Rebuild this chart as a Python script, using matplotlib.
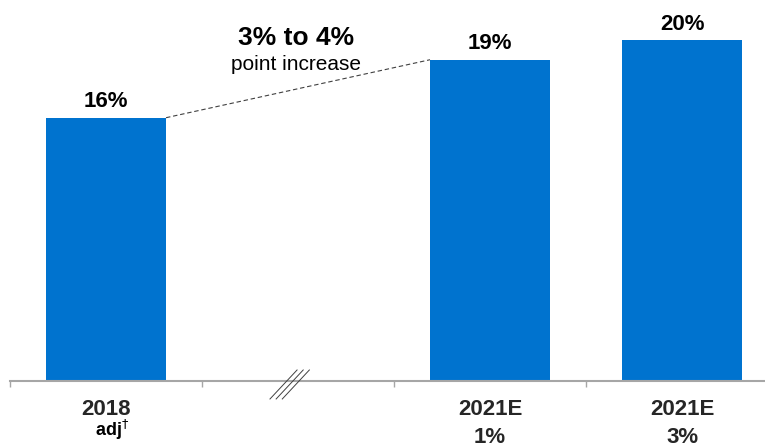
import matplotlib
matplotlib.use("Agg")
import matplotlib.pyplot as plt

plt.rcParams['font.family'] = ['Liberation Sans', 'DejaVu Sans']

# data
categories = ["2018", "", "2021E", "2021E"]
sublabels = ["adj$^{\\dagger}$", "", "1%", "3%"]
positions = [0, 2, 3]
values = [16, 19, 20]
value_labels = ["16%", "19%", "20%"]
callout_title = "3% to 4%"
callout_sub = "point increase"

BLUE = "#0073CF"
GRAY = "#a6a6a6"
TEXT = "#262626"
bar_w = 0.625

fig = plt.figure(figsize=(7.65, 4.43), dpi=100)
ax = fig.add_axes([10 / 765, 1 - 381 / 443, 755 / 765, 381 / 443])

ax.bar(positions, values, width=bar_w, color=BLUE, zorder=2)
ax.set_xlim(-0.5, 3.432)
ax.set_ylim(2.38, 22.09)

for p, v, lab in zip(positions, values, value_labels):
    ax.annotate(lab, (p, v), xytext=(0, 11.5), textcoords="offset points",
                ha="center", va="center", fontsize=16, fontweight="bold", color="black")

# dashed connector between the first two bars
ax.plot([positions[0] + bar_w / 2, positions[1] - bar_w / 2], [values[0], values[1]],
        ls=(0, (4, 2.5)), color="#404040", lw=0.8, zorder=3)

ax.text(0.99, 20.12, callout_title, ha="center", va="center", fontsize=19,
        fontweight="bold", color="black")
ax.text(0.99, 18.73, callout_sub, ha="center", va="center", fontsize=15, color="black")

# axes styling
for s in ["top", "right", "left"]:
    ax.spines[s].set_visible(False)
ax.spines["bottom"].set_color(GRAY)
ax.spines["bottom"].set_linewidth(1.5)
ax.set_yticks([])
ax.set_xticks([-0.5, 0.5, 1.5, 2.5])
ax.set_xticklabels([])
ax.tick_params(axis="x", direction="out", length=4.5, width=1, color=GRAY)

for i, (c, s) in enumerate(zip(categories, sublabels)):
    if not c:
        continue
    ax.annotate(c, (i, 0), xycoords=("data", "axes fraction"), xytext=(0, -20.5),
                textcoords="offset points", ha="center", va="center",
                fontsize=16, fontweight="bold", color=TEXT)
    if s.startswith("adj"):
        ax.annotate(s, (i, 0), xycoords=("data", "axes fraction"), xytext=(4.5, -35.5),
                    textcoords="offset points", ha="center", va="center",
                    fontsize=13, fontweight="bold", color="black")
    else:
        ax.annotate(s, (i, 0), xycoords=("data", "axes fraction"), xytext=(0, -41),
                    textcoords="offset points", ha="center", va="center",
                    fontsize=16, fontweight="bold", color=TEXT)

# axis break marks
for dx in [0.0, 0.032, 0.064]:
    ax.plot([0.854 + dx, 0.995 + dx], [1.45, 2.95], color="#404040", lw=0.7,
            clip_on=False, zorder=4)

fig.savefig("out.png", dpi=100)
